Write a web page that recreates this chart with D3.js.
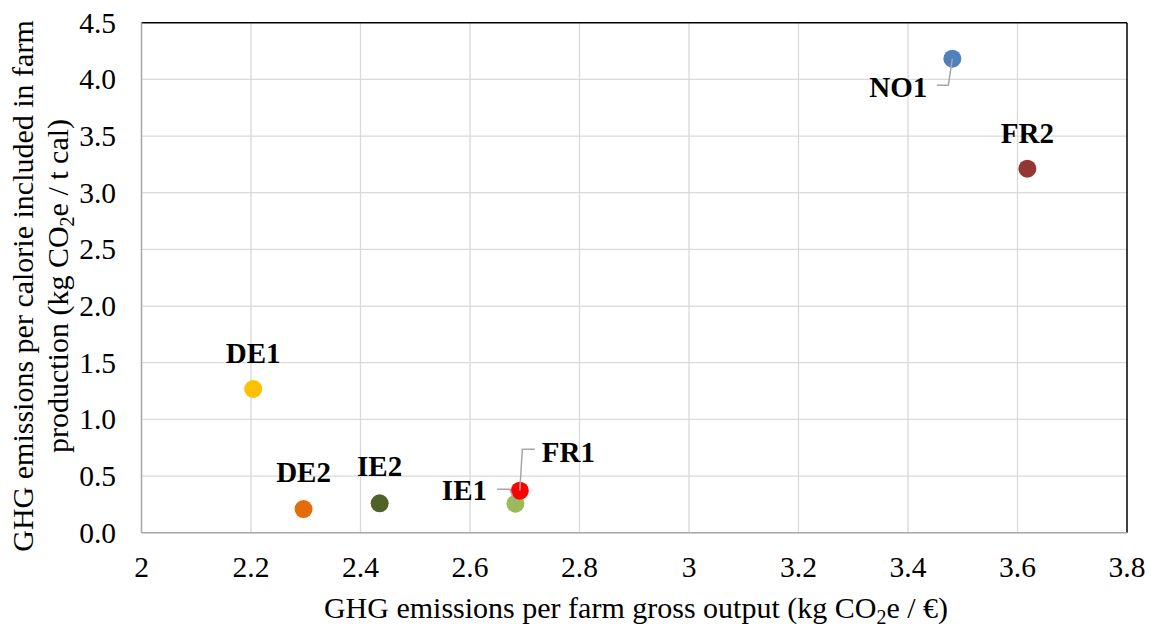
<!DOCTYPE html>
<html>
<head>
<meta charset="utf-8">
<script src="https://cdn.jsdelivr.net/npm/d3@7"></script>
<style>
  body { margin: 0; background: #fff; }
  svg text { font-family: "Liberation Serif", "Times New Roman", serif; fill: #000; }
</style>
</head>
<body>
<svg id="chart" width="1156" height="628"></svg>
<script>
// farm scatter: GHG per gross output vs GHG per calorie
const farms = ['NO1', 'FR2', 'DE1', 'DE2', 'IE2', 'IE1', 'FR1'];
const perOutput = [3.481, 3.618, 2.204, 2.296, 2.435, 2.683, 2.691];
const perCalorie = [4.183, 3.212, 1.268, 0.209, 0.259, 0.256, 0.371];
const colors = ['#4f81bd', '#943634', '#ffc000', '#e46c0a', '#4f6228', '#9bbb59', '#ff0000'];
const xTicks = [2, 2.2, 2.4, 2.6, 2.8, 3, 3.2, 3.4, 3.6, 3.8];
const yTicks = [0, 0.5, 1, 1.5, 2, 2.5, 3, 3.5, 4, 4.5];

const svg = d3.select('#chart');
const plotLeft = 141.5, plotRight = 1127, plotTop = 22.7, plotBottom = 532.7;

const x = d3.scaleLinear().domain([2, 3.8]).range([plotLeft, plotRight]);
const y = d3.scaleLinear().domain([0, 4.5]).range([plotBottom, plotTop]);

// 网格
svg.append('g')
    .selectAll('line')
    .data(xTicks.slice(1, -1))
    .enter().append('line')
    .attr('x1', d => x(d)).attr('x2', d => x(d))
    .attr('y1', plotTop).attr('y2', plotBottom)
    .attr('stroke', '#d9d9d9').attr('stroke-width', 1.3);

svg.append('g')
    .selectAll('line')
    .data(yTicks.slice(1, -1))
    .enter().append('line')
    .attr('x1', plotLeft).attr('x2', plotRight)
    .attr('y1', d => y(d)).attr('y2', d => y(d))
    .attr('stroke', '#d9d9d9').attr('stroke-width', 1.3);

// 边框：上和右黑色，左和下灰色
svg.append('line').attr('x1', plotLeft).attr('x2', plotRight).attr('y1', plotTop).attr('y2', plotTop)
    .attr('stroke', '#000').attr('stroke-width', 1.5);
svg.append('line').attr('x1', plotRight).attr('x2', plotRight).attr('y1', plotTop).attr('y2', plotBottom)
    .attr('stroke', '#000').attr('stroke-width', 1.5);
svg.append('line').attr('x1', plotLeft).attr('x2', plotLeft).attr('y1', plotTop).attr('y2', plotBottom)
    .attr('stroke', '#a6a6a6').attr('stroke-width', 1.5);
svg.append('line').attr('x1', plotLeft).attr('x2', plotRight).attr('y1', plotBottom).attr('y2', plotBottom)
    .attr('stroke', '#a6a6a6').attr('stroke-width', 1.5);

// 刻度标签
svg.append('g')
    .selectAll('text')
    .data(xTicks)
    .enter().append('text')
    .attr('x', d => x(d))
    .attr('y', 577)
    .attr('text-anchor', 'middle')
    .style('font-size', '29.5px')
    .text(d => d3.format('')(d));

svg.append('g')
    .selectAll('text')
    .data(yTicks)
    .enter().append('text')
    .attr('x', 116)
    .attr('y', d => y(d) + 10)
    .attr('text-anchor', 'end')
    .style('font-size', '29.5px')
    .text(d => d.toFixed(1));

// 坐标轴标题
const xt = svg.append('text')
    .attr('x', 636).attr('y', 618)
    .attr('text-anchor', 'middle')
    .style('font-size', '30px');
xt.append('tspan').text('GHG emissions per farm gross output (kg CO');
xt.append('tspan').attr('baseline-shift', '-6').style('font-size', '20px').text('2');
xt.append('tspan').text('e / €)');

const yt = svg.append('text')
    .attr('transform', 'translate(33,286) rotate(-90)')
    .attr('text-anchor', 'middle')
    .style('font-size', '30px');
yt.append('tspan').attr('x', 0).attr('y', 0).text('GHG emissions per calorie included in farm');
const yt2 = svg.append('text')
    .attr('transform', 'translate(68,286) rotate(-90)')
    .attr('text-anchor', 'middle')
    .style('font-size', '30px');
yt2.append('tspan').text('production (kg CO');
yt2.append('tspan').attr('baseline-shift', '-6').style('font-size', '20px').text('2');
yt2.append('tspan').text('e / t cal)');

// 引导线（相对点的偏移）
const leaders = {
    NO1: [[0, 0], [-4, 26.5], [-15.5, 26.5]],
    IE1: [[0, 0], [-5.5, -14.5], [-18.5, -14.5]],
    FR1: [[0, 0], [2.5, -41.5], [15, -41.5]]
};
// 标签偏移（相对点）
const labelOffset = {
    NO1: [-54, 38, 'middle'],
    FR2: [0, -26, 'middle'],
    DE1: [0, -26, 'middle'],
    DE2: [0, -27, 'middle'],
    IE2: [0, -27.5, 'middle'],
    IE1: [-51, -3.5, 'middle'],
    FR1: [48.5, -29, 'middle']
};

const pts = farms.map((f, i) => ({ name: f, x: perOutput[i], y: perCalorie[i], c: colors[i] }));

// 绘制点
svg.append('g')
    .selectAll('circle')
    .data(pts)
    .enter().append('circle')
    .attr('cx', d => x(d.x))
    .attr('cy', d => y(d.y))
    .attr('r', 9)
    .attr('fill', d => d.c);

// 引导线画在点上方
pts.forEach(p => {
    if (leaders[p.name]) {
        svg.append('polyline')
            .attr('points', leaders[p.name].map(o => [x(p.x) + o[0], y(p.y) + o[1]].join(',')).join(' '))
            .attr('fill', 'none')
            .attr('stroke', '#a6a6a6')
            .attr('stroke-width', 1.5);
    }
});

svg.append('g')
    .selectAll('text')
    .data(pts)
    .enter().append('text')
    .attr('x', d => x(d.x) + labelOffset[d.name][0])
    .attr('y', d => y(d.y) + labelOffset[d.name][1])
    .attr('text-anchor', d => labelOffset[d.name][2])
    .style('font-size', '29px')
    .style('font-weight', 'bold')
    .text(d => d.name);
</script>
</body>
</html>
